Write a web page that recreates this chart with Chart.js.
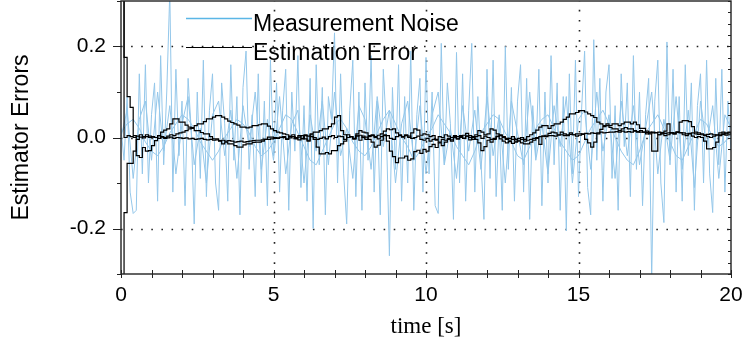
<!DOCTYPE html>
<html>
<head>
<meta charset="utf-8">
<script src="https://cdn.jsdelivr.net/npm/chart.js@4"></script>
<style>
  body { margin: 0; background: #fff; }
</style>
</head>
<body>
<canvas id="c" width="745" height="350"></canvas>
<script>
// sample times: estimator runs at 0.1 s, two of the noise traces at 0.2 s
const tFine = [];
for (let i = 0; i <= 200; i++) tFine.push(i / 10);
const tCoarse = [];
for (let i = 0; i <= 100; i++) tCoarse.push(i / 5);

const xTicks = [0, 5, 10, 15, 20];
const yTicks = [-0.2, 0.0, 0.2];

// estimation error, three states
const errA = [
  0.5, 0.176, 0.09, 0.066, 0.004, -0.04, -0.044, -0.022, -0.03, -0.029,
  -0.018, -0.007, 0.004, 0.012, 0.016, 0.019, 0.03, 0.041, 0.041, 0.034,
  0.034, 0.027, 0.023, 0.02, 0.015, 0.015, 0.011, 0.008, 0.008, 0.002,
  -0.003, -0.003, -0.008, -0.014, -0.01, -0.014, -0.014, -0.018, -0.021, -0.021,
  -0.016, -0.014, -0.014, -0.011, -0.01, -0.01, -0.008, -0.004, 0.001, 0.001,
  0.0, -0.002, 0.001, 0.0, -0.003, -0.001, 0.002, -0.003, -0.005, -0.003,
  0.004, -0.008, 0.006, -0.004, -0.021, -0.036, -0.036, -0.033, -0.036, -0.029,
  -0.029, -0.018, -0.014, -0.008, 0.0, 0.002, -0.003, 0.005, -0.006, 0.003,
  0.001, -0.004, -0.01, -0.021, -0.017, -0.006, 0.004, -0.008, -0.03, -0.042,
  -0.055, -0.045, -0.045, -0.041, -0.05, -0.047, -0.031, -0.028, -0.035, -0.026,
  -0.03, -0.02, -0.015, -0.022, -0.012, -0.018, -0.01, -0.004, -0.008, 0.002,
  -0.003, 0.004, -0.002, 0.003, -0.005, 0.002, -0.004, -0.012, -0.029, -0.02,
  -0.006, -0.01, -0.004, 0.002, -0.003, -0.008, -0.012, -0.009, -0.013, -0.01,
  -0.008, -0.012, -0.014, -0.014, -0.01, -0.006, -0.002, -0.015, 0.003, 0.005,
  0.009, 0.012, 0.01, 0.006, 0.012, 0.008, 0.004, 0.01, 0.006, 0.003,
  0.005, 0.008, -0.004, -0.012, -0.021, -0.01, 0.008, 0.018, 0.024, 0.03,
  0.026, 0.03, 0.03, 0.026, 0.03, 0.034, 0.034, 0.03, 0.034, 0.028,
  0.02, 0.02, 0.014, 0.008, -0.03, -0.03, 0.006, 0.01, 0.014, 0.03,
  0.01, 0.008, 0.012, 0.034, 0.037, 0.037, 0.035, 0.024, 0.012, 0.01,
  0.006, 0.004, 0.002, 0.0, 0.003, 0.006, 0.01, 0.012, 0.008, 0.01,
  0.008
];
const errB = [
  -0.5, -0.165, -0.057, -0.057, -0.03, -0.004, 0.006, 0.002, 0.006, 0.003,
  0.002, 0.0, 0.004, 0.002, -0.002, 0.003, 0.006, 0.004, 0.008, 0.01,
  0.012, 0.015, 0.019, 0.022, 0.026, 0.03, 0.03, 0.035, 0.041, 0.041,
  0.045, 0.048, 0.048, 0.045, 0.041, 0.036, 0.033, 0.03, 0.027, 0.023,
  0.023, 0.021, 0.023, 0.026, 0.026, 0.028, 0.03, 0.03, 0.025, 0.019,
  0.015, 0.012, 0.01, 0.008, 0.006, 0.002, 0.002, 0.0, 0.004, -0.002,
  0.006, 0.003, 0.008, 0.012, 0.012, 0.015, 0.019, 0.019, 0.024, 0.03,
  0.045, 0.048, 0.015, 0.006, 0.0, 0.002, -0.003, 0.008, 0.015, 0.012,
  0.01, 0.004, 0.006, 0.002, 0.005, 0.008, 0.014, 0.019, 0.017, 0.019,
  0.01, 0.006, 0.002, 0.004, 0.0, 0.01, 0.019, 0.016, 0.005, 0.008,
  0.006, 0.002, 0.004, -0.004, 0.002, 0.0, 0.006, 0.003, 0.0, 0.004,
  0.002, 0.0, 0.005, 0.009, 0.004, 0.0, 0.006, 0.015, 0.012, 0.006,
  0.008, 0.019, 0.016, 0.008, 0.004, 0.0, -0.004, -0.002, 0.002, -0.004,
  -0.002, 0.0, -0.004, 0.002, 0.006, 0.01, 0.016, 0.023, 0.026, 0.026,
  0.02, 0.026, 0.03, 0.03, 0.034, 0.04, 0.045, 0.052, 0.052, 0.055,
  0.059, 0.059, 0.056, 0.052, 0.048, 0.044, 0.034, 0.03, 0.026, 0.026,
  0.022, 0.019, 0.019, 0.015, 0.019, 0.022, 0.019, 0.019, 0.015, 0.012,
  0.015, 0.012, 0.008, 0.01, 0.012, 0.01, 0.006, 0.008, 0.004, 0.006,
  0.01, 0.008, 0.012, 0.01, 0.006, 0.004, 0.008, 0.003, 0.0, 0.002,
  0.0, -0.008, -0.025, -0.025, -0.022, -0.01, 0.004, 0.008, 0.01, 0.012,
  0.008
];
const errC = [
  0.5, 0.0, 0.004, 0.002, 0.0, 0.003, 0.001, -0.001, 0.002, 0.0,
  0.001, 0.0, -0.002, 0.001, 0.0, -0.001, 0.001, -0.002, 0.0, -0.001,
  -0.002, -0.001, -0.003, -0.002, -0.004, -0.003, -0.002, -0.004, -0.005, -0.004,
  -0.006, -0.005, -0.007, -0.006, -0.008, -0.007, -0.008, -0.01, -0.009, -0.008,
  -0.01, -0.009, -0.008, -0.007, -0.006, -0.006, -0.005, -0.004, -0.004, -0.003,
  -0.002, -0.001, 0.0, 0.002, -0.004, 0.003, 0.006, -0.002, 0.001, 0.004,
  -0.003, -0.006, 0.002, 0.0, -0.004, -0.002, 0.001, -0.003, 0.002, 0.004,
  0.0, 0.003, 0.002, -0.004, 0.006, 0.002, -0.002, 0.003, 0.005, 0.0,
  -0.004, 0.002, 0.004, 0.0, -0.003, 0.002, 0.006, 0.004, -0.002, -0.004,
  0.002, 0.004, 0.001, 0.006, 0.003, -0.002, 0.0, 0.003, -0.004, -0.006,
  -0.002, -0.008, -0.004, -0.006, -0.01, -0.004, -0.006, -0.002, -0.005, 0.0,
  -0.003, 0.002, -0.002, 0.003, 0.0, -0.004, 0.002, 0.004, -0.002, 0.003,
  0.0, -0.004, -0.002, 0.003, 0.006, 0.002, -0.002, -0.006, -0.004, -0.008,
  -0.006, -0.004, -0.008, -0.006, -0.004, -0.002, 0.0, 0.002, 0.003, 0.002,
  0.004, 0.004, 0.003, 0.005, 0.006, 0.004, 0.006, 0.007, 0.006, 0.008,
  0.008, 0.007, 0.009, 0.008, 0.01, 0.009, 0.01, 0.012, 0.01, 0.011,
  0.012, 0.012, 0.013, 0.012, 0.014, 0.012, 0.013, 0.012, 0.014, 0.013,
  0.012, 0.012, 0.011, 0.012, 0.01, 0.011, 0.012, 0.01, 0.009, 0.01,
  0.011, 0.01, 0.012, 0.011, 0.01, 0.008, 0.009, 0.01, 0.008, 0.007,
  0.008, 0.006, 0.007, 0.008, 0.006, 0.005, 0.006, 0.007, 0.005, 0.006,
  0.005
];

// measurement noise traces
const noise1 = [
  0.02, -0.05, 0.09, -0.12, -0.167, -0.16, 0.14, -0.08, 0.16, -0.1,
  0.05, 0.12, -0.14, 0.18, -0.06, 0.1, 0.32, -0.12, 0.15, -0.04,
  0.08, -0.15, 0.13, 0.02, -0.19, 0.1, -0.09, 0.17, -0.13, 0.06,
  0.14, -0.1, -0.16, 0.12, 0.03, -0.14, 0.16, -0.05, 0.09, -0.17,
  0.11, 0.19, -0.07, 0.05, -0.13, 0.14, -0.1, 0.08, -0.15, 0.17,
  -0.04, 0.12, -0.12, 0.06, 0.15, -0.16, 0.1, -0.03, 0.18, -0.11,
  0.07, -0.14, 0.13, -0.2, 0.16, -0.06, 0.11, -0.17, 0.09, 0.04,
  0.23, -0.1, 0.14, -0.08, -0.19, 0.06, 0.17, -0.13, 0.1, -0.16,
  0.12, -0.05, 0.18, -0.12, 0.08, -0.17, 0.15, 0.02, -0.26, 0.11,
  -0.07, 0.16, -0.14, 0.09, -0.1, 0.19, -0.16, 0.05, 0.13, -0.12,
  0.176, -0.08, 0.1, -0.15, -0.167, 0.207, -0.06, 0.12, 0.03, -0.18,
  0.187, -0.1, 0.14, -0.14, 0.06, 0.207, -0.12, 0.09, -0.05, -0.18,
  0.15, -0.09, 0.17, -0.13, 0.04, -0.16, 0.2, -0.07, 0.11, -0.14,
  0.08, 0.16, -0.12, 0.13, -0.18, 0.07, -0.04, 0.15, -0.15, 0.1,
  -0.1, 0.18, -0.06, 0.12, -0.16, 0.09, -0.205, 0.14, -0.08, 0.17,
  -0.13, 0.06, 0.19, -0.11, -0.17, 0.215, -0.05, 0.13, -0.14, 0.1,
  0.16, -0.09, 0.07, -0.16, 0.14, -0.02, 0.12, -0.13, 0.18, -0.07,
  0.1, -0.15, 0.05, 0.13, -0.31, 0.08, 0.17, -0.1, -0.187, 0.21,
  -0.06, 0.15, -0.12, 0.09, -0.14, 0.16, -0.04, 0.12, -0.16, 0.07,
  0.14, -0.1, 0.17, -0.08, -0.165, 0.13, -0.06, 0.15, -0.12, 0.08,
  -0.03
];
const noise2 = [
  0.0, 0.06, -0.09, 0.04, 0.08, -0.05, 0.1, -0.03, 0.07, -0.08,
  0.03, 0.09, -0.06, 0.02, -0.1, 0.05, 0.08, -0.04, 0.06, -0.09,
  0.07, -0.02, 0.1, -0.07, 0.04, -0.05, 0.09, -0.08, 0.03, 0.06,
  -0.1, 0.05, -0.03, 0.08, -0.06, 0.1, -0.04, 0.02, -0.09, 0.07,
  0.04, -0.07, 0.09, -0.02, 0.06, -0.1, 0.03, 0.08, -0.05, 0.07,
  -0.08, 0.05, 0.1, -0.06, 0.02, -0.09, 0.07, -0.03, 0.06, -0.07,
  0.09, -0.04, 0.05, -0.1, 0.08, 0.01, -0.06, 0.1, -0.05, 0.03,
  -0.08, 0.07, -0.02, 0.09, -0.1, 0.04, 0.06, -0.07, 0.1, -0.03,
  0.05, -0.09, 0.08, -0.04, 0.07, -0.06, 0.02, 0.1, -0.08, 0.04,
  -0.05, 0.09, -0.07, 0.06, -0.11, 0.08, -0.02, 0.07, -0.09, 0.05,
  0.02
];
const noise3 = [
  0.01, 0.03, 0.04, 0.02, -0.01, -0.03, -0.04, -0.02, 0.01, 0.03,
  0.05, 0.04, 0.02, -0.01, -0.03, -0.05, -0.03, 0.0, 0.02, 0.04,
  0.03, 0.01, -0.02, -0.04, -0.03, -0.01, 0.02, 0.05, 0.04, 0.01,
  -0.02, -0.05, -0.06, -0.03, 0.0, 0.03, 0.04, 0.02, -0.01, -0.03,
  -0.04, -0.02, 0.01, 0.04, 0.06, 0.03, 0.0, -0.02, -0.05, -0.03,
  0.0, 0.02, 0.05, 0.03, 0.01, -0.02, -0.04, -0.06, -0.03, 0.01,
  0.03, 0.05, 0.04, 0.01, -0.01, -0.04, -0.05, -0.02, 0.02, 0.04,
  0.05, 0.02, -0.01, -0.03, -0.05, -0.04, -0.01, 0.02, 0.04, 0.06,
  0.03, 0.0, -0.03, -0.05, -0.06, -0.03, 0.01, 0.03, 0.05, 0.02,
  -0.01, -0.04, -0.05, -0.02, 0.01, 0.04, 0.03, 0.0, -0.02, -0.01,
  0.01
];

const noiseColor = '#94c7ea';
const legendNoiseColor = '#5bb6e6';
const errColor = '#000';

function xy(ts, vs) { return vs.map((v, i) => ({ x: ts[i], y: v })); }

function errSet(vals) {
  return { data: xy(tFine, vals), borderColor: errColor, borderWidth: 1.2,
           stepped: 'before', pointRadius: 0, fill: false };
}
function noiseSet(ts, vals) {
  return { data: xy(ts, vals), borderColor: noiseColor, borderWidth: 1,
           pointRadius: 0, fill: false, tension: 0 };
}

// dotted grid, frame, tick marks and the in-plot legend
const decor = {
  id: 'decor',
  beforeDatasetsDraw(chart) {
    const { ctx, chartArea: a, scales: { x, y } } = chart;
    ctx.save();
    ctx.strokeStyle = '#222';
    ctx.lineWidth = 1.6;
    ctx.setLineDash([1.6, 8.5]);
    [5, 10, 15].forEach(v => {
      const px = Math.round(x.getPixelForValue(v)) + 0.5;
      ctx.beginPath(); ctx.moveTo(px, a.bottom); ctx.lineTo(px, a.top); ctx.stroke();
    });
    yTicks.forEach(v => {
      const py = Math.round(y.getPixelForValue(v)) + 0.5;
      ctx.beginPath(); ctx.moveTo(a.left, py); ctx.lineTo(a.right, py); ctx.stroke();
    });
    ctx.restore();
  },
  afterDatasetsDraw(chart) {
    const { ctx, chartArea: a, scales: { x, y } } = chart;
    ctx.save();
    ctx.strokeStyle = '#222';
    ctx.lineWidth = 1.4;
    ctx.strokeRect(a.left, a.top, a.right - a.left, a.bottom - a.top);
    ctx.lineWidth = 1;
    ctx.beginPath();
    for (let v = 0; v <= 20; v++) {
      const px = Math.round(x.getPixelForValue(v)) + 0.5;
      ctx.moveTo(px, a.bottom - 4); ctx.lineTo(px, a.bottom + 4);
    }
    for (let k = -3; k <= 3; k++) {
      const py = Math.round(y.getPixelForValue(k / 10)) + 0.5;
      const len = k % 2 === 0 ? 8 : 4;
      ctx.moveTo(a.left - len, py); ctx.lineTo(a.left, py);
    }
    for (let k = -12; k <= 12; k++) {
      const py = Math.round(y.getPixelForValue(k * 0.025)) + 0.5;
      ctx.moveTo(a.right - 3, py); ctx.lineTo(a.right, py);
    }
    ctx.stroke();

    // legend
    ctx.lineWidth = 1.5;
    ctx.strokeStyle = legendNoiseColor;
    ctx.beginPath(); ctx.moveTo(186, 18.5); ctx.lineTo(252, 18.5); ctx.stroke();
    ctx.strokeStyle = errColor;
    ctx.lineWidth = 1.2;
    ctx.beginPath(); ctx.moveTo(186, 47.5); ctx.lineTo(252, 47.5); ctx.stroke();
    ctx.fillStyle = '#000';
    ctx.font = '23px "Liberation Sans", Arial, sans-serif';
    ctx.textBaseline = 'alphabetic';
    ctx.textAlign = 'left';
    ctx.fillText('Measurement Noise', 253, 31);
    ctx.fillText('Estimation Error', 253, 59.5);
    ctx.restore();
  }
};

new Chart(document.getElementById('c'), {
  type: 'line',
  data: {
    datasets: [
      errSet(errA), errSet(errB), errSet(errC),
      noiseSet(tFine, noise1), noiseSet(tCoarse, noise2), noiseSet(tCoarse, noise3)
    ]
  },
  options: {
    responsive: false,
    animation: false,
    devicePixelRatio: 1,
    layout: { padding: { top: 1, right: 14, left: 0, bottom: 0 } },
    plugins: { legend: { display: false }, tooltip: { enabled: false } },
    scales: {
      x: {
        type: 'linear', min: 0, max: 20,
        afterFit(s) { s.height = 76; s.paddingLeft = 0; s.paddingRight = 0; },
        afterBuildTicks(s) { s.ticks = xTicks.map(v => ({ value: v })); },
        grid: { display: false, drawTicks: false },
        border: { display: false },
        ticks: {
          padding: 9, color: '#000', maxRotation: 0,
          font: { family: '"Liberation Sans", Arial, sans-serif', size: 21 },
          callback: v => String(v)
        },
        title: {
          display: true, text: 'time [s]', color: '#000',
          font: { family: '"Liberation Serif", "Times New Roman", serif', size: 23 },
          padding: { top: 0, bottom: 9 }
        }
      },
      y: {
        type: 'linear', min: -0.3, max: 0.3,
        afterFit(s) { s.width = 121; s.paddingTop = 0; s.paddingBottom = 0; },
        afterBuildTicks(s) { s.ticks = yTicks.map(v => ({ value: v })); },
        grid: { display: false, drawTicks: false },
        border: { display: false },
        ticks: {
          padding: 15, color: '#000',
          font: { family: '"Liberation Sans", Arial, sans-serif', size: 21 },
          callback: v => v.toFixed(1)
        },
        title: {
          display: true, text: 'Estimator Errors', color: '#000',
          font: { family: '"Liberation Sans", Arial, sans-serif', size: 23 },
          padding: { top: 8, bottom: 0 }
        }
      }
    }
  },
  plugins: [decor]
});
</script>
</body>
</html>
